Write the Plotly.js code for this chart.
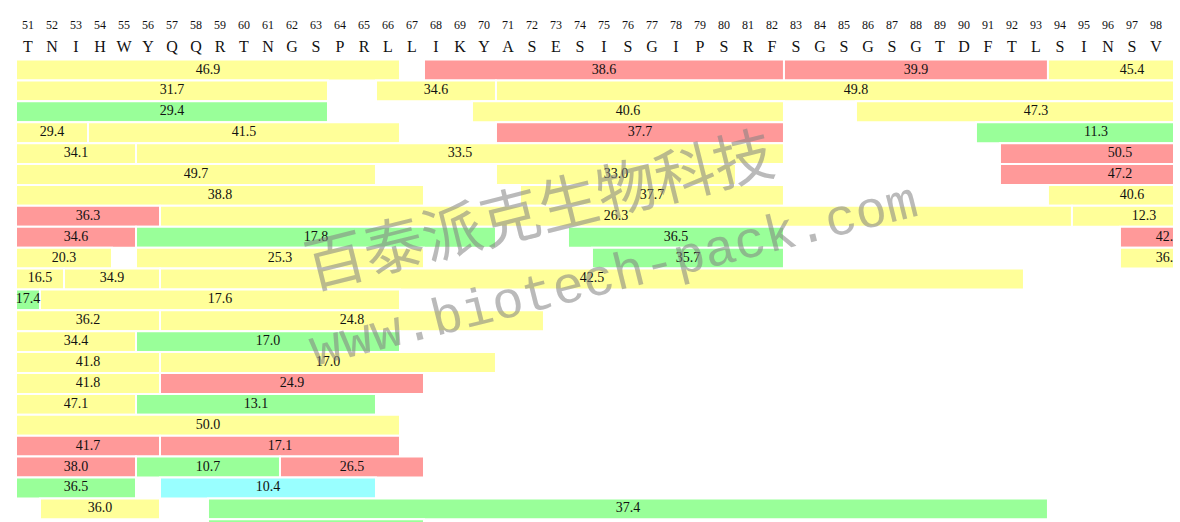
<!DOCTYPE html>
<html>
<head>
<meta charset="utf-8">
<script src="https://cdn.plot.ly/plotly-3.0.1.min.js"></script>
<style>
  body { margin: 0; background: #fff; }
  #graph { width: 1180px; height: 522px; }
</style>
</head>
<body>
<div id="graph"></div>
<script>
// residue numbers and sequence shown in the header
const positions = [51, 52, 53, 54, 55, 56, 57, 58, 59, 60, 61, 62, 63, 64, 65, 66,
  67, 68, 69, 70, 71, 72, 73, 74, 75, 76, 77, 78, 79, 80, 81, 82, 83, 84, 85, 86,
  87, 88, 89, 90, 91, 92, 93, 94, 95, 96, 97, 98];
const residues = ['T', 'N', 'I', 'H', 'W', 'Y', 'Q', 'Q', 'R', 'T', 'N', 'G', 'S', 'P', 'R', 'L',
  'L', 'I', 'K', 'Y', 'A', 'S', 'E', 'S', 'I', 'S', 'G', 'I', 'P', 'S', 'R', 'F', 'S', 'G', 'S', 'G',
  'S', 'G', 'T', 'D', 'F', 'T', 'L', 'S', 'I', 'N', 'S', 'V'];

// one entry per peptide: row, first residue, last residue, value, colour class
const pepRow   = [1, 1, 1, 1,  2, 2, 2,  3, 3, 3,  4, 4, 4, 4,  5, 5, 5,  6, 6, 6,  7, 7, 7,
  8, 8, 8,  9, 9, 9, 9,  10, 10, 10, 10,  11, 11, 11,  12, 12,  13, 13,  14, 14,  15, 15,
  16, 16,  17, 17,  18,  19, 19,  20, 20, 20,  21, 21,  22, 22,  23];
const pepStart = [51, 68, 83, 94,  51, 66, 71,  51, 70, 86,  51, 54, 71, 91,  51, 56, 92,  51, 71, 92,  51, 72, 94,
  51, 57, 95,  51, 56, 74, 97,  51, 56, 75, 97,  51, 53, 57,  51, 52,  51, 57,  51, 56,  51, 57,
  51, 57,  51, 56,  51,  51, 57,  51, 56, 62,  51, 57,  52, 59,  59];
const pepEnd   = [66, 82, 93, 100,  63, 70, 100,  63, 82, 100,  53, 66, 82, 100,  55, 82, 101,  65, 80, 101,  67, 82, 100,
  56, 94, 100,  55, 70, 82, 100,  54, 67, 82, 100,  52, 56, 92,  51, 66,  56, 72,  55, 66,  56, 70,
  56, 67,  55, 65,  66,  56, 66,  55, 61, 67,  55, 65,  56, 93,  67];
const pepValue = [46.9, 38.6, 39.9, 45.4,  31.7, 34.6, 49.8,  29.4, 40.6, 47.3,  29.4, 41.5, 37.7, 11.3,
  34.1, 33.5, 50.5,  49.7, 33.0, 47.2,  38.8, 37.7, 40.6,  36.3, 26.3, 12.3,  34.6, 17.8, 36.5, 42.0,
  20.3, 25.3, 35.7, 36.0,  16.5, 34.9, 42.5,  17.4, 17.6,  36.2, 24.8,  34.4, 17.0,  41.8, 17.0,
  41.8, 24.9,  47.1, 13.1,  50.0,  41.7, 17.1,  38.0, 10.7, 26.5,  36.5, 10.4,  36.0, 37.4,  null];
const pepClass = ['y', 'r', 'r', 'y',  'y', 'y', 'y',  'g', 'y', 'y',  'y', 'y', 'r', 'g',  'y', 'y', 'r',
  'y', 'y', 'r',  'y', 'y', 'y',  'r', 'y', 'y',  'r', 'g', 'g', 'r',  'y', 'y', 'g', 'y',
  'y', 'y', 'y',  'g', 'y',  'y', 'y',  'y', 'g',  'y', 'y',  'y', 'r',  'y', 'g',  'y',
  'r', 'r',  'r', 'g', 'r',  'g', 'c',  'y', 'g',  'g'];

const classColor = { y: '#ffff99', r: '#ff9999', g: '#99ff99', c: '#99ffff' };

document.addEventListener('DOMContentLoaded', function(event)
{
  displayPlot("graph");
});

function displayPlot(divPlot)
{
  let barPlot = {
    type: 'bar',
    orientation: 'h',
    y: pepRow,
    base: pepStart.map(s => s - 0.5),
    x: pepStart.map((s, i) => pepEnd[i] - s + 1),
    width: 1,
    marker: {
      color: pepClass.map(c => classColor[c]),
      line: { color: '#ffffff', width: 2 }
    },
    hoverinfo: 'skip',
    showlegend: false
  };

  // value labels centred on each peptide
  let labelPlot = {
    type: 'scatter',
    mode: 'text',
    x: pepStart.map((s, i) => (s + pepEnd[i]) / 2),
    y: pepRow,
    text: pepValue.map(v => v === null ? '' : v.toFixed(1)),
    textposition: 'middle center',
    textfont: { family: 'Liberation Serif, DejaVu Serif, serif', size: 14, color: '#111' },
    cliponaxis: true,
    hoverinfo: 'skip',
    showlegend: false
  };

  let numberPlot = {
    type: 'scatter',
    mode: 'text',
    x: positions,
    y: positions.map(() => -1.1),
    text: positions.map(String),
    textfont: { family: 'Liberation Serif, DejaVu Serif, serif', size: 12, color: '#111' },
    hoverinfo: 'skip',
    showlegend: false
  };

  let residuePlot = {
    type: 'scatter',
    mode: 'text',
    x: positions,
    y: positions.map(() => -0.05),
    text: residues,
    textfont: { family: 'Liberation Serif, DejaVu Serif, serif', size: 16, color: '#111' },
    hoverinfo: 'skip',
    showlegend: false
  };

  let layout =
  {
    width: 1180,
    height: 522,
    margin: { l: 16, r: 7, t: 0, b: 0 },
    paper_bgcolor: '#ffffff',
    plot_bgcolor: '#ffffff',
    barmode: 'overlay',
    xaxis:
    {
      range: [50.5, 98.71],
      showgrid: false,
      zeroline: false,
      showticklabels: false,
      showline: false,
      fixedrange: true
    },
    yaxis:
    {
      range: [22.63, -2.35],
      showgrid: false,
      zeroline: false,
      showticklabels: false,
      showline: false,
      fixedrange: true
    },
    annotations: [
      {
        xref: 'paper', yref: 'paper', x: 0.451, y: 0.607,
        text: '百泰派克生物科技', showarrow: false, textangle: -14,
        font: { family: 'Noto Sans CJK SC', size: 60, color: 'rgba(130,130,130,0.55)' }
      },
      {
        xref: 'paper', yref: 'paper', x: 0.517, y: 0.469,
        text: 'www.biotech-pack.com', showarrow: false, textangle: -14,
        font: { family: 'Liberation Mono, DejaVu Sans Mono, monospace', size: 52, color: 'rgba(130,130,130,0.55)' }
      }
    ],
    hovermode: false
  };

  Plotly.newPlot(divPlot, [barPlot, labelPlot, numberPlot, residuePlot], layout, { displayModeBar: false, staticPlot: true });
}
</script>
</body>
</html>
